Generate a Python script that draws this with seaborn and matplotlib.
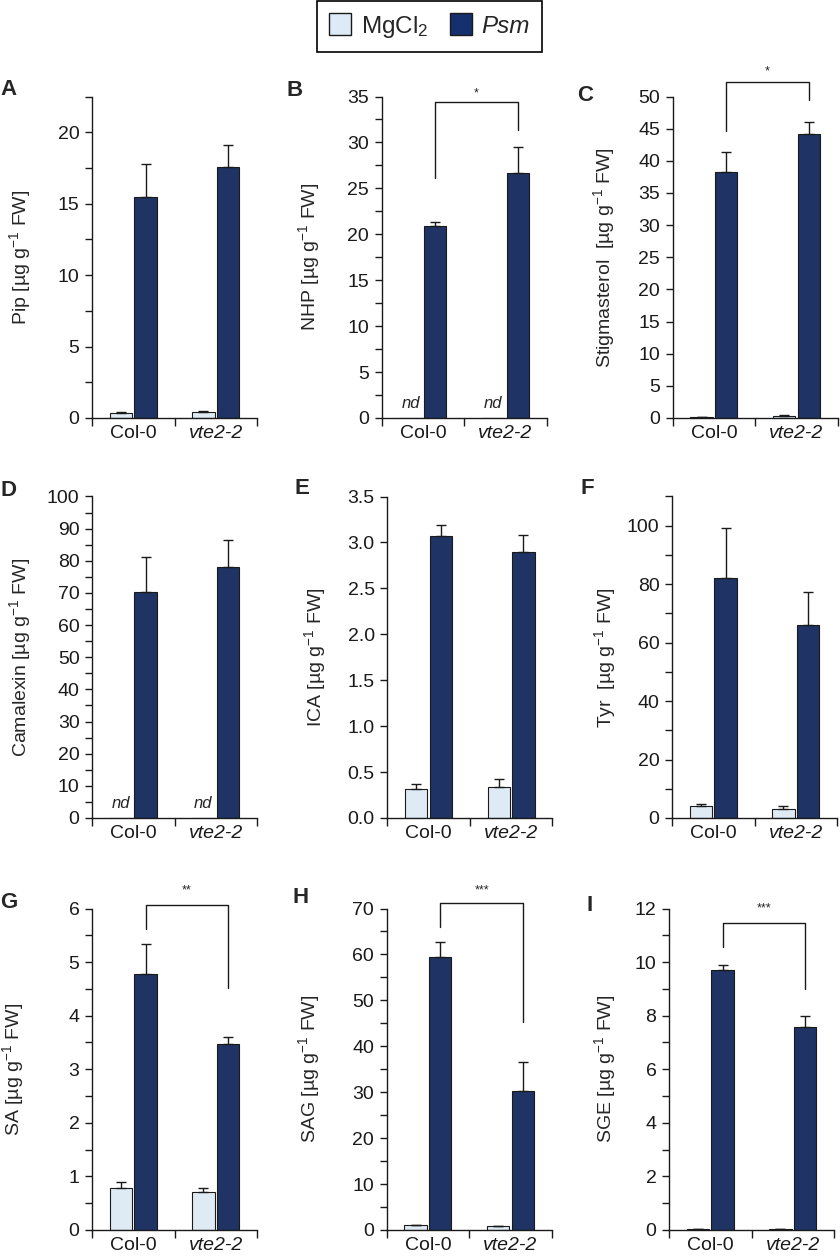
import matplotlib.pyplot as plt
import matplotlib.ticker as mticker
from matplotlib.patches import Patch
import numpy as np
import pandas as pd
import seaborn as sns

sns.set_style("ticks")
plt.rcParams['font.family'] = ['Liberation Sans', 'DejaVu Sans']
plt.rcParams['mathtext.default'] = 'regular'

# data (means and upper SD), nan = not detected
genotypes = ['Col-0', 'vte2-2']
treatments = ['MgCl2', 'Psm']
panel_letters = ['A', 'B', 'C', 'D', 'E', 'F', 'G', 'H', 'I']
metabolites = ['Pip', 'NHP', 'Stigmasterol ', 'Camalexin', 'ICA', 'Tyr ', 'SA', 'SAG', 'SGE']

col_mgcl2 = [0.38, np.nan, 0.10, np.nan, 0.316, 4.0, 0.79, 1.0, 0.03]
col_mgcl2_err = [0.07, 0, 0.05, 0, 0.058, 0.8, 0.11, 0.16, 0.01]
vte_mgcl2 = [0.42, np.nan, 0.30, np.nan, 0.337, 3.2, 0.71, 0.8, 0.03]
vte_mgcl2_err = [0.06, 0, 0.15, 0, 0.087, 0.8, 0.07, 0.10, 0.01]
col_psm = [15.5, 20.9, 38.3, 70.4, 3.07, 82.1, 4.78, 59.4, 9.69]
col_psm_err = [2.3, 0.4, 3.1, 10.8, 0.125, 17.1, 0.55, 3.4, 0.19]
vte_psm = [17.6, 26.7, 44.2, 78.1, 2.90, 66.1, 3.48, 30.2, 7.57]
vte_psm_err = [1.5, 2.8, 1.8, 8.4, 0.18, 11.2, 0.13, 6.3, 0.41]

# significance brackets: (left leg end, right leg end, top, star baseline, label)
brackets = [None, (26.1, 31.3, 34.35, 35.0, '*'), (44.6, 49.5, 52.2, 53.5, '*'),
            None, None, None,
            (5.61, 4.51, 6.06, 6.28, '**'), (66.0, 45.3, 71.2, 73.2, '***'),
            (10.57, 8.98, 11.47, 11.88, '***')]

# axis settings
y_top = [22.5, 35, 50, 100, 3.5, 110, 6, 70, 12]
y_major = [5, 5, 5, 10, 0.5, 20, 1, 10, 2]
y_minor = [2.5, 2.5, None, 5, None, 10, 0.5, 5, 1]

colors = {'MgCl2': '#DCEBF7', 'Psm': '#14306F'}
W, H = 840, 1258
fig = plt.figure(figsize=(W / 100, H / 100), dpi=100)

ax_left = [92, 381.7, 672.7, 92, 387.3, 672, 92, 386.7, 669]
ax_bottom = [418, 418, 418, 818, 818, 818, 1230, 1230, 1230]
label_off = [-59, -60, -56, -59, -59, -54, -66, -65, -51]
letter_pos = [(0, 79), (287, 80), (577, 85), (0, 480), (295, 478), (580, 478),
              (0, 892), (293, 887), (587, 895)]
aw, ah = 165, 321.5
fs = 14

for i in range(9):
    ax = fig.add_axes([ax_left[i] / W, 1 - ax_bottom[i] / H, aw / W, ah / H])
    df = pd.DataFrame({
        'genotype': genotypes * 2,
        'treatment': ['MgCl2'] * 2 + ['Psm'] * 2,
        'value': [col_mgcl2[i], vte_mgcl2[i], col_psm[i], vte_psm[i]],
        'err': [col_mgcl2_err[i], vte_mgcl2_err[i], col_psm_err[i], vte_psm_err[i]],
    })
    df['nd'] = df['value'].isna()
    df['plot_value'] = df['value'].fillna(0)

    sns.barplot(data=df, x='genotype', y='plot_value', hue='treatment',
                order=genotypes, hue_order=treatments, palette=colors,
                errorbar=None, width=0.6, gap=0.1, edgecolor='#1a1a1a',
                linewidth=0.8, legend=False, ax=ax)

    # upper error bars / nd labels at the bar positions
    for bar in ax.patches:
        cx = bar.get_x() + bar.get_width() / 2
        g = int(round(cx))
        t = 0 if cx < g else 1
        row = df[(df['genotype'] == genotypes[g]) & (df['treatment'] == treatments[t])].iloc[0]
        if row['nd']:
            ax.annotate('nd', (cx, 0), xytext=(0, 7), textcoords='offset points',
                        ha='center', va='baseline', fontsize=12, style='italic')
        else:
            ax.errorbar(cx, row['value'], yerr=[[0], [row['err']]], fmt='none',
                        ecolor='#1a1a1a', elinewidth=1, capsize=3.5, capthick=1, zorder=1)

    # bracket between Psm bars
    if brackets[i] is not None:
        l_end, r_end, top, star_y, lab = brackets[i]
        x0, x1 = 0.15, 1.15
        ax.plot([x0, x0, x1, x1], [l_end, top, top, r_end], color='#1a1a1a',
                lw=1, clip_on=False)
        ax.text((x0 + x1) / 2, star_y, lab, ha='center', va='baseline',
                fontsize=9, clip_on=False)

    ax.set_xlim(-0.5, 1.5)
    ax.set_ylim(0, y_top[i])
    ax.yaxis.set_major_locator(mticker.MultipleLocator(y_major[i]))
    if y_minor[i]:
        ax.yaxis.set_minor_locator(mticker.MultipleLocator(y_minor[i]))
    if y_major[i] < 1:
        ax.yaxis.set_major_formatter(mticker.FormatStrFormatter('%.1f'))
    ax.set_xticks([0, 1])
    ax.set_xticklabels(genotypes)
    ax.get_xticklabels()[1].set_style('italic')
    ax.xaxis.set_minor_locator(mticker.FixedLocator([-0.5, 0.5, 1.5]))
    ax.tick_params(axis='x', which='major', length=0, labelsize=fs, pad=5, colors='#1a1a1a')
    ax.tick_params(axis='x', which='minor', length=6, width=1, color='#1a1a1a')
    ax.tick_params(axis='y', which='both', length=5, width=1, labelsize=fs,
                   pad=4, colors='#1a1a1a')
    sns.despine(ax=ax)
    for s in ['left', 'bottom']:
        ax.spines[s].set_linewidth(1)
        ax.spines[s].set_color('#1a1a1a')
    ax.set_xlabel('')
    ax.set_ylabel(metabolites[i] + ' [µg g$^{-1}$ FW]', fontsize=fs)
    ax.yaxis.set_label_coords(label_off[i] / aw, 0.5)

    lx, ly = letter_pos[i]
    fig.text(lx / W, 1 - ly / H, panel_letters[i], fontsize=16, fontweight='bold',
             ha='left', va='top')

handles = [Patch(facecolor=colors[t], edgecolor='#1a1a1a', linewidth=1) for t in treatments]
leg = fig.legend(handles, ['MgCl$_2$', 'Psm'], loc='upper center',
                 bbox_to_anchor=(429.5 / W, 0.999), ncol=2, fontsize=17.5,
                 frameon=True, fancybox=False, edgecolor='black', framealpha=1,
                 borderpad=0.5, handlelength=0.9, handleheight=1.0,
                 handletextpad=0.4, columnspacing=0.9, borderaxespad=0)
leg.get_frame().set_linewidth(1.2)
leg.get_texts()[1].set_style('italic')

fig.savefig('out.png', dpi=100)
